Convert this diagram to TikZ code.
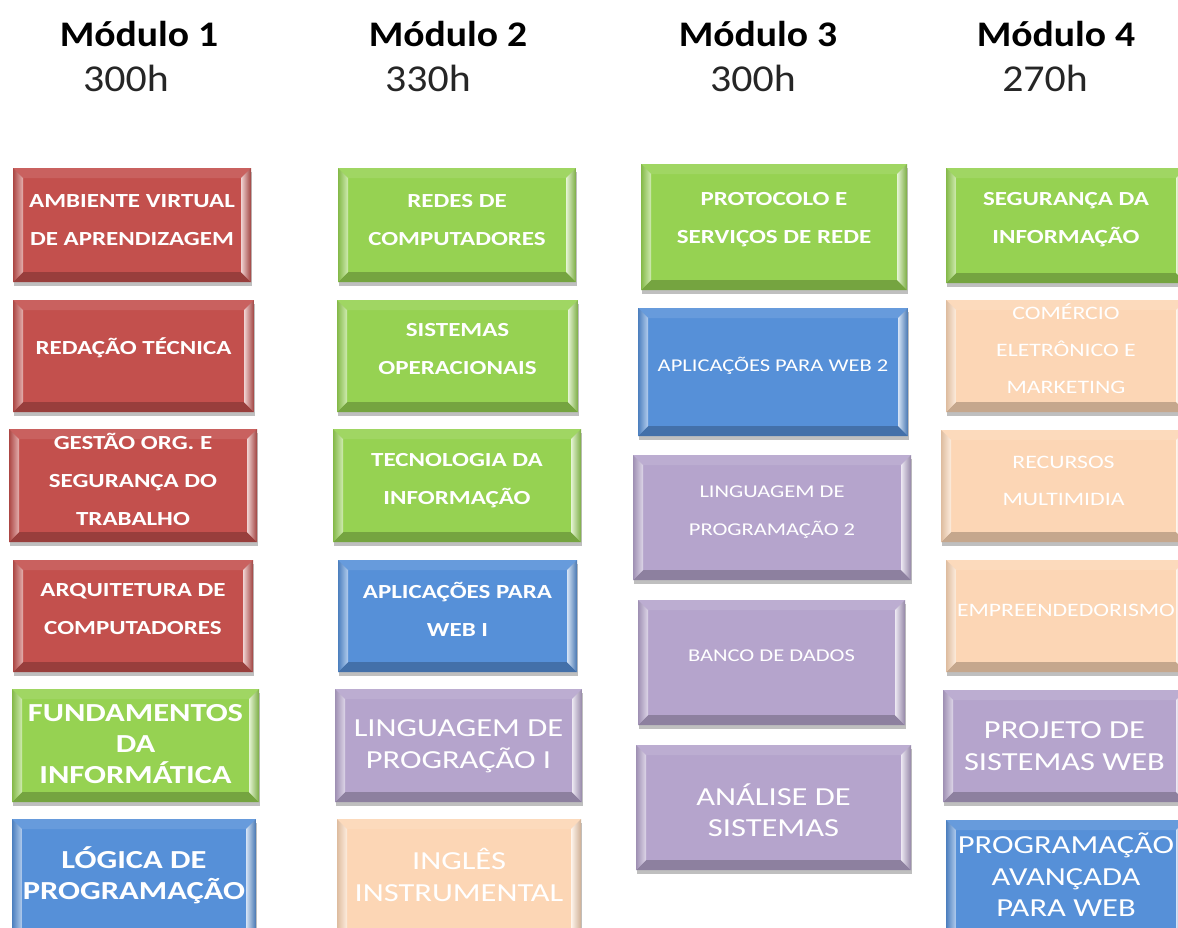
\documentclass[tikz,border=0pt]{standalone}
\usepackage{fontspec}
\setmainfont{Carlito}
\newfontfamily\bxfont[FakeStretch=1.25]{Carlito}
\newfontfamily\hdfont[FakeStretch=1.1]{Carlito}
\definecolor{cred}{RGB}{195,80,77}
\definecolor{cgreen}{RGB}{150,210,82}
\definecolor{cblue}{RGB}{86,144,216}
\definecolor{cpurple}{RGB}{181,164,204}
\definecolor{cpeach}{RGB}{252,214,181}
\def\bv{10pt}
\tikzset{
  bevbox/.style={rectangle, inner sep=0pt, fill=#1,
    preaction={fill=black!45, opacity=0.55, transform canvas={shift={(1pt,-3.5pt)}}},
    path picture={
      \coordinate (nw) at (path picture bounding box.north west);
      \coordinate (ne) at (path picture bounding box.north east);
      \coordinate (sw) at (path picture bounding box.south west);
      \coordinate (se) at (path picture bounding box.south east);
      \fill[#1!90!white] (nw) -- (ne) -- ([shift={(-\bv,-\bv)}]ne) -- ([shift={(\bv,-\bv)}]nw) -- cycle;
      \fill[#1!78!black] (sw) -- (se) -- ([shift={(-\bv,\bv)}]se) -- ([shift={(\bv,\bv)}]sw) -- cycle;
      \shade[left color=#1!88!black, right color=#1!45!white] (nw) -- ([shift={(\bv,-\bv)}]nw) -- ([shift={(\bv,\bv)}]sw) -- (sw) -- cycle;
      \shade[left color=#1!25!white, right color=#1!82!black] (ne) -- ([shift={(-\bv,-\bv)}]ne) -- ([shift={(-\bv,\bv)}]se) -- (se) -- cycle;
    }},
  sb/.style={text=white, align=center, inner sep=0pt, font=\bxfont\bfseries\fontsize{20}{38}\selectfont},
  sr/.style={text=white, align=center, inner sep=0pt, font=\bxfont\fontsize{18}{38}\selectfont},
  pr/.style={text=white, align=center, inner sep=0pt, font=\bxfont\fontsize{19}{37}\selectfont},
  bb/.style={text=white, align=center, inner sep=0pt, font=\bxfont\bfseries\fontsize{26}{31}\selectfont},
  br/.style={text=white, align=center, inner sep=0pt, font=\bxfont\fontsize{26}{31.5}\selectfont},
  hd/.style={anchor=base, inner sep=0pt, text=black, font=\hdfont\bfseries\fontsize{36}{40}\selectfont},
  hr/.style={anchor=base, inner sep=0pt, text=black!85, font=\hdfont\fontsize{38}{40}\selectfont},
}
\newcommand\bevnode[9]{%
  \pgfmathsetmacro\bw{#4-#2}\pgfmathsetmacro\bh{#5-#3}%
  \pgfmathsetmacro\cx{(#2+#4)/2}\pgfmathsetmacro\cy{(#3+#5)/2}%
  \node[bevbox=#6, minimum width=\bw pt, minimum height=\bh pt] (#1) at (\cx,\cy) {};
  \node[#7] (#1t) at (\cx,#8) {#9};
}
\begin{document}
\begin{tikzpicture}[x=1pt,y=-1pt]
\useasboundingbox (0,0) rectangle (1178,927);
\fill[white] (0,0) rectangle (1178,927);
\clip (0,0) rectangle (1178,927);
% headings
\node[hd] (h1) at (139,46) {Módulo 1};
\node[hd] (h2) at (448,46) {Módulo 2};
\node[hd] (h3) at (758,46) {Módulo 3};
\node[hd] (h4) at (1056,46) {Módulo 4};
\node[hr] (r1) at (126,91) {300h};
\node[hr] (r2) at (428,91) {330h};
\node[hr] (r3) at (753,91) {300h};
\node[hr] (r4) at (1045,91) {270h};
% column 1
\bevnode{a1}{13}{168}{251}{282}{cred}{sb}{220}{AMBIENTE VIRTUAL\\DE APRENDIZAGEM}
\bevnode{a2}{13}{300}{254}{412}{cred}{sb}{348}{REDAÇÃO TÉCNICA}
\bevnode{a3}{9}{429}{257}{542}{cred}{sb}{479}{GESTÃO ORG. E\\SEGURANÇA DO\\TRABALHO}
\bevnode{a4}{13}{560}{253}{672}{cred}{sb}{609}{ARQUITETURA DE\\COMPUTADORES}
\bevnode{a5}{12}{689}{259}{802}{cgreen}{bb}{744}{FUNDAMENTOS\\DA\\INFORMÁTICA}
\bevnode{a6}{12}{819}{256}{945}{cblue}{bb}{875}{LÓGICA DE\\PROGRAMAÇÃO}
% column 2
\bevnode{b1}{338}{168}{576}{282}{cgreen}{sb}{220}{REDES DE\\COMPUTADORES}
\bevnode{b2}{337}{300}{578}{412}{cgreen}{sb}{349}{SISTEMAS\\OPERACIONAIS}
\bevnode{b3}{333}{429}{581}{542}{cgreen}{sb}{481}{TECNOLOGIA DA\\INFORMAÇÃO}
\bevnode{b4}{338}{560}{577}{672}{cblue}{sb}{609}{APLICAÇÕES PARA\\WEB I}
\bevnode{b5}{335}{689}{582}{802}{cpurple}{br}{746}{LINGUAGEM DE\\PROGRAÇÃO I}
\bevnode{b6}{337}{819}{581}{945}{cpeach}{br}{875}{INGLÊS\\INSTRUMENTAL}
% column 3
\bevnode{c1}{641}{164}{907}{290}{cgreen}{sb}{220}{PROTOCOLO E\\SERVIÇOS DE REDE}
\bevnode{c2}{638}{308}{908}{436}{cblue}{sr}{366}{APLICAÇÕES PARA WEB 2}
\bevnode{c3}{633}{455}{911}{580}{cpurple}{sr}{512}{LINGUAGEM DE\\PROGRAMAÇÃO 2}
\bevnode{c4}{638}{600}{905}{725}{cpurple}{sr}{656}{BANCO DE DADOS}
\bevnode{c5}{636}{745}{911}{870}{cpurple}{br}{810}{ANÁLISE DE\\SISTEMAS}
% column 4
\bevnode{d1}{946}{168}{1186}{283}{cgreen}{sb}{220}{SEGURANÇA DA\\INFORMAÇÃO}
\bevnode{d2}{946}{300}{1186}{412}{cpeach}{pr}{349}{COMÉRCIO\\ELETRÔNICO E\\MARKETING}
\bevnode{d3}{941}{430}{1186}{542}{cpeach}{pr}{481}{RECURSOS\\MULTIMIDIA}
\bevnode{d4}{946}{560}{1186}{672}{cpeach}{pr}{610}{EMPREENDEDORISMO}
\bevnode{d5}{943}{690}{1186}{802}{cpurple}{br}{746}{PROJETO DE\\SISTEMAS WEB}
\bevnode{d6}{946}{820}{1186}{945}{cblue}{br}{875}{PROGRAMAÇÃO\\AVANÇADA\\PARA WEB}
\end{tikzpicture}
\end{document}
